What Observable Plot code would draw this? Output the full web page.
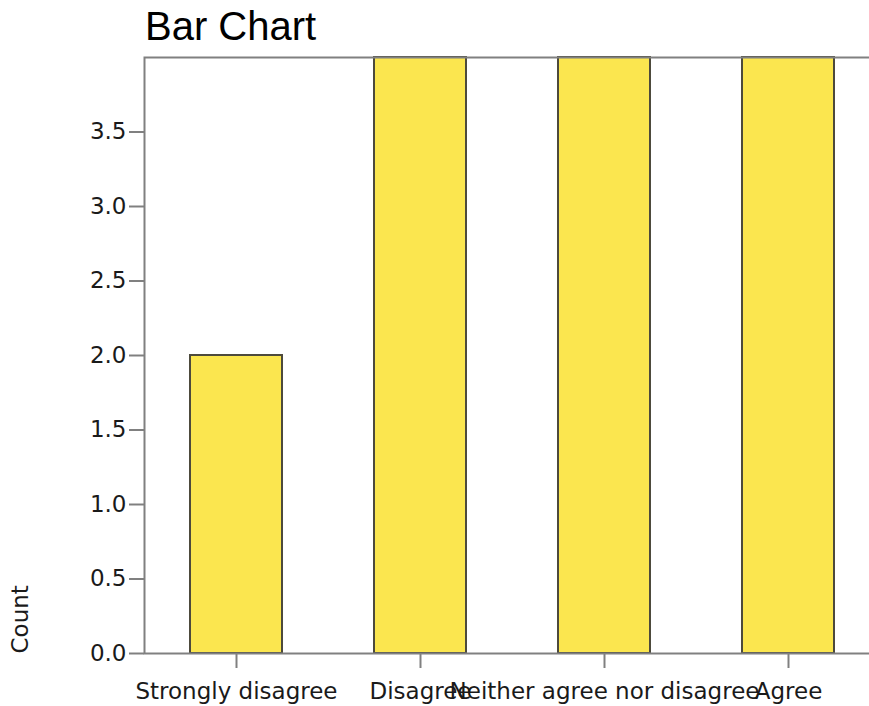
<!DOCTYPE html>
<html>
<head>
<meta charset="utf-8">
<script src="https://cdn.jsdelivr.net/npm/d3@7"></script>
<script src="https://cdn.jsdelivr.net/npm/@observablehq/plot@0.6"></script>
<style>
  html, body { margin: 0; padding: 0; background: #fff; overflow: hidden; width: 869px; height: 706px; }
  #title { height: 48px; line-height: 52px; padding-left: 145px; font-family: "Liberation Sans", Arial, sans-serif; font-size: 40px; color: #000; white-space: nowrap; overflow: visible; }
</style>
</head>
<body>
<div id="title">Bar Chart</div>
<div id="chart"></div>
<script>
const categories = ["Strongly disagree", "Disagree", "Neither agree nor disagree", "Agree"];
const counts = [2, 4, 4, 4];
const yTicks = [0, 0.5, 1, 1.5, 2, 2.5, 3, 3.5];
const yLabel = "Count";

const data = categories.map((c, i) => ({category: c, count: counts[i]}));

const chart = Plot.plot({
  width: 869,
  height: 658,
  marginTop: 9,
  marginBottom: 53,
  marginLeft: 144,
  marginRight: -11,
  style: {fontFamily: "DejaVu Sans, sans-serif", fontSize: "23px", color: "#1a1a1a", background: "transparent", overflow: "visible"},
  x: {domain: categories, paddingInner: 0.5, paddingOuter: 0.25, align: 0.5},
  y: {domain: [0, 4]},
  marks: [
    Plot.barY(data, {x: "category", y: "count", fill: "#FBE64F", stroke: "#4d4a3c", strokeWidth: 2, inset: 0}),
    Plot.frame({stroke: "#808080", strokeWidth: 2}),
    Plot.axisY({ticks: yTicks, tickFormat: d3.format(".1f"), tickSize: 15, tickPadding: 3, stroke: "#808080", strokeWidth: 2, strokeOpacity: 1, label: null, fontSize: 23}),
    Plot.axisX({tickSize: 15, tickPadding: 14, stroke: "#808080", strokeWidth: 2, strokeOpacity: 1, label: null, fontSize: 23}),
    Plot.text([yLabel], {frameAnchor: "bottom-left", text: d => d, rotate: -90, textAnchor: "start", dx: -117, dy: 0, fontSize: 23, fill: "#1a1a1a"})
  ]
});
document.getElementById("chart").appendChild(chart);
</script>
</body>
</html>
